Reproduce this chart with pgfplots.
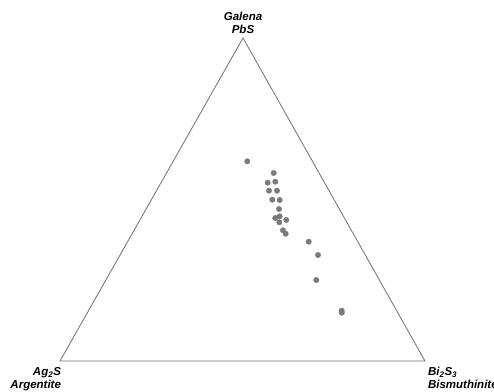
\documentclass[border=0pt]{standalone}
\usepackage{fontspec}
\setmainfont{Liberation Sans}
\usepackage{pgfplots}
\pgfplotsset{compat=1.18}
\definecolor{tri}{HTML}{707070}
\definecolor{dot}{HTML}{7A7A7A}
\begin{document}
\begin{tikzpicture}
\begin{axis}[width=494pt,height=391pt,scale only axis,
  xmin=0,xmax=494,ymin=0,ymax=391,y dir=reverse,
  hide axis,clip=false]
\addplot[draw=none,forget plot] coordinates {(0,0) (494,391)};
% triangle
\addplot[tri,line width=0.8pt,mark=none] coordinates {(60,361) (425,361) (243,38) (60,361)};
% samples
\addplot[only marks,mark=*,mark size=2.7pt,color=dot,mark options={draw=dot,fill=dot}] coordinates {
(247.3,161.3)
(273.7,173)
(267.7,182.7)
(275.3,181.7)
(269,190.7)
(277,190.7)
(272.3,199.7)
(279.7,200)
(279,209)
(275.3,218)
(279.7,216.3)
(286.3,220)
(279.3,222.3)
(283,230.3)
(285.7,233.7)
(308.7,241.7)
(318,255)
(316.3,280)
(341.7,310.7)
(341.7,312.7)
};
\node[overlay,align=center,font=\fontsize{11.5}{12.4}\selectfont\bfseries\itshape,anchor=base] at (axis cs:243,33) {Galena\\PbS};
\node[overlay,align=right,font=\fontsize{11.5}{12.4}\selectfont\bfseries\itshape,anchor=base east] at (axis cs:64.5,388.3) {Ag\textsubscript{2}S\\Argentite};
\node[overlay,align=left,font=\fontsize{11.5}{12.4}\selectfont\bfseries\itshape,anchor=base west] at (axis cs:424.5,388.3) {Bi\textsubscript{2}S\textsubscript{3}\\Bismuthinite};
\end{axis}
\end{tikzpicture}
\end{document}
